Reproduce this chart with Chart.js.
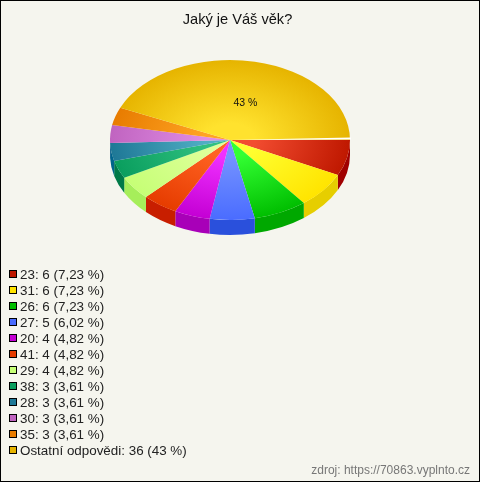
<!DOCTYPE html>
<html lang="cs">
<head>
    <meta charset="UTF-8">
    <title>Jaký je Váš věk?</title>
    <script src="https://cdn.jsdelivr.net/npm/chart.js"></script>
    <style>
        html, body { margin: 0; padding: 0; background: #f5f5ee; }
        #wrap { position: relative; width: 480px; height: 482px; box-sizing: border-box; border: 1px solid #000; overflow: hidden; font-family: "Liberation Sans", Arial, sans-serif; color: #222; }
        #c { position: absolute; left: -1px; top: -1px; }
        #legend { position: absolute; left: 8px; top: 266px; font-size: 13.4px; line-height: 16px; }
        #legend div { height: 16px; white-space: nowrap; }
        #legend i { display: inline-block; width: 6px; height: 6px; border: 1px solid #000; margin-right: 3px; vertical-align: 1px; }
        #source { position: absolute; right: 9px; top: 462px; font-size: 12px; color: #777; }
    </style>
</head>
<body>
<div id="wrap">
    <canvas id="c" width="480" height="482"></canvas>
    <div id="legend"></div>
    <div id="source">zdroj: https://70863.vyplnto.cz</div>
</div>
<script>
    const categories = ["23", "31", "26", "27", "20", "41", "29", "38", "28", "30", "35", "Ostatní odpovědi"];
    const counts = [6, 6, 6, 5, 4, 4, 4, 3, 3, 3, 3, 36];
    const shares = ["7,23 %", "7,23 %", "7,23 %", "6,02 %", "4,82 %", "4,82 %", "4,82 %", "3,61 %", "3,61 %", "3,61 %", "3,61 %", "43 %"];

    const innerColors = ["#f24c30", "#ffff30", "#33ff33", "#7492ff", "#f030ff", "#ff6222", "#deff9a", "#30c080", "#50aec4", "#e08ce4", "#ffa424", "#ffe22e"];
    const outerColors = ["#bf1800", "#ffe400", "#00be00", "#4a6cff", "#c400d4", "#e63c00", "#c6ff76", "#0a9e5e", "#1e7896", "#c064c0", "#e87c00", "#e6b400"];
    const sideColors = ["#a00000", "#e6ce00", "#00a800", "#2a50dc", "#a800b8", "#c81e00", "#a6ee5a", "#007a48", "#00648c", "#8a3c9a", "#c06000", "#c09000"];

    const squash = 2 / 3;   // pie is tilted, top face is an ellipse
    const depth = 15;

    function sliceFill(context) {
        const chart = context.chart;
        const area = chart.chartArea;
        if (!area) return outerColors[context.dataIndex];
        const cx = (area.left + area.right) / 2;
        const cy = (area.top + area.bottom) / 2;
        const g = chart.ctx.createRadialGradient(cx, cy, 25, cx, cy, (area.right - area.left) / 2);
        g.addColorStop(0, innerColors[context.dataIndex]);
        g.addColorStop(1, outerColors[context.dataIndex]);
        return g;
    }

    const tiltPlugin = {
        id: "tilt",
        beforeDatasetsDraw(chart) {
            const ctx = chart.ctx;
            const arcs = chart.getDatasetMeta(0).data;
            const cx = arcs[0].x, cy = arcs[0].y;
            ctx.save();
            ctx.translate(0, cy);
            ctx.scale(1, squash);
            ctx.translate(0, -cy);
            // side wall, only the front half shows
            arcs.forEach((arc, i) => {
                const a0 = Math.max(arc.startAngle, 0);
                const a1 = Math.min(arc.endAngle, Math.PI);
                if (a1 <= a0) return;
                ctx.beginPath();
                ctx.arc(cx, cy, arc.outerRadius, a0, a1);
                ctx.arc(cx, cy + depth / squash, arc.outerRadius, a1, a0, true);
                ctx.closePath();
                ctx.fillStyle = sideColors[i];
                ctx.fill();
            });
        },
        afterDatasetsDraw(chart) {
            const ctx = chart.ctx;
            const arcs = chart.getDatasetMeta(0).data;
            const cx = arcs[0].x, cy = arcs[0].y;
            ctx.restore();
            // hairline where the big slice meets the first one
            const r = arcs[0].outerRadius;
            ctx.beginPath();
            ctx.moveTo(cx, cy);
            ctx.lineTo(cx + r + 1, cy - 2.5);
            ctx.lineTo(cx + r + 1, cy - 0.5);
            ctx.closePath();
            ctx.fillStyle = "#ffffff";
            ctx.fill();
            // percentage on the biggest slice
            const last = arcs[arcs.length - 1];
            const pos = last.tooltipPosition();
            ctx.fillStyle = "#111";
            ctx.font = "10.5px 'Liberation Sans', Arial, sans-serif";
            ctx.textAlign = "center";
            ctx.textBaseline = "middle";
            ctx.fillText(shares[shares.length - 1], pos.x + 3, cy + (pos.y - cy) * squash + 2);
        }
    };

    new Chart(document.getElementById("c"), {
        type: "pie",
        data: {
            labels: categories,
            datasets: [{
                data: counts,
                backgroundColor: sliceFill,
                borderWidth: 0
            }]
        },
        options: {
            responsive: false,
            animation: false,
            rotation: 90,
            layout: { padding: { left: 110, right: 130, top: 20, bottom: 222 } },
            plugins: {
                legend: { display: false },
                tooltip: { enabled: false },
                title: { display: false }
            }
        },
        plugins: [tiltPlugin, {
            id: "heading",
            afterDraw(chart) {
                const ctx = chart.ctx;
                ctx.fillStyle = "#111";
                ctx.font = "14.6px 'Liberation Sans', Arial, sans-serif";
                ctx.textAlign = "center";
                ctx.textBaseline = "middle";
                ctx.fillText("Jaký je Váš věk?", 237.5, 20);
            }
        }]
    });

    const legend = document.getElementById("legend");
    categories.forEach((name, i) => {
        const row = document.createElement("div");
        const box = document.createElement("i");
        box.style.background = outerColors[i];
        row.appendChild(box);
        row.appendChild(document.createTextNode(name + ": " + counts[i] + " (" + shares[i] + ")"));
        legend.appendChild(row);
    });
</script>
</body>
</html>
